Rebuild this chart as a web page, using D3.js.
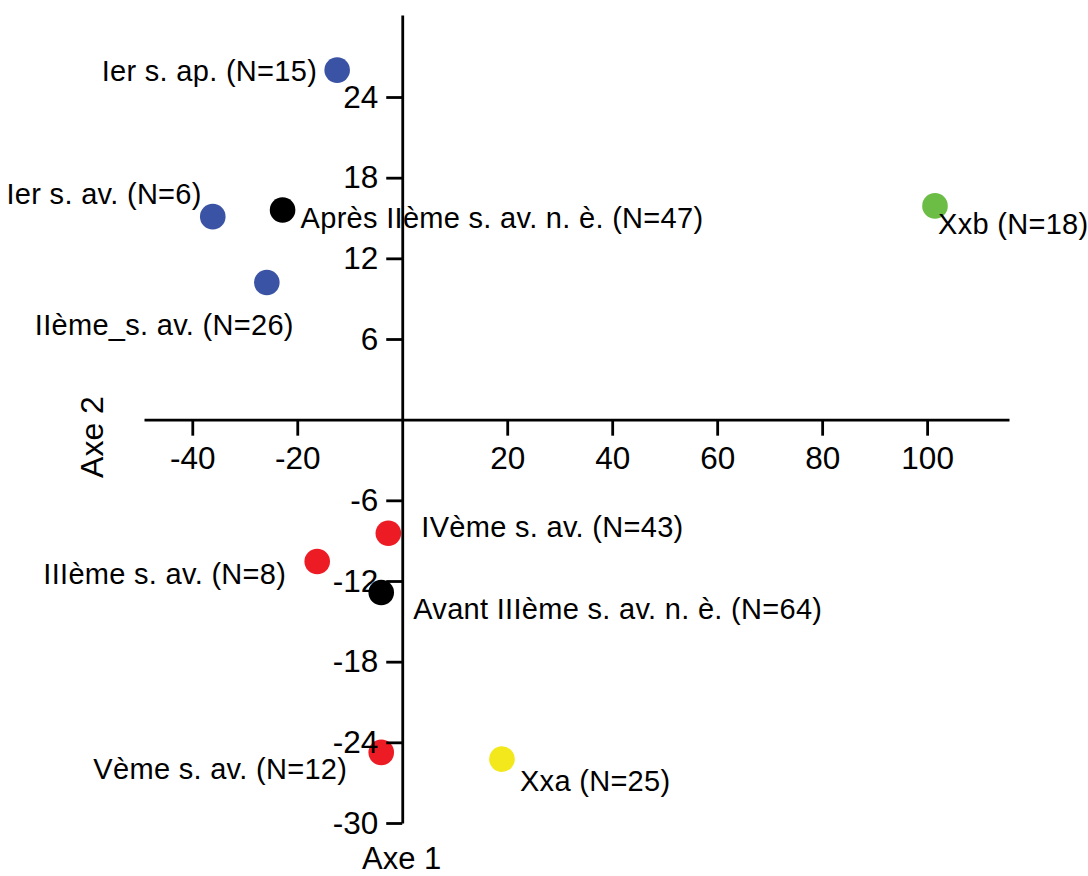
<!DOCTYPE html>
<html>
<head>
<meta charset="utf-8">
<script src="https://cdn.jsdelivr.net/npm/d3@7"></script>
<style>
  html, body { margin: 0; padding: 0; background: #fff; }
  svg { display: block; }
  text { font-family: "Liberation Sans", Arial, Helvetica, sans-serif; fill: #000; }
</style>
</head>
<body>
<svg id="chart" width="1088" height="876"></svg>
<script>
// ---- data ----
const categories = [
  "Ier s. ap. (N=15)",
  "Ier s. av. (N=6)",
  "Après IIème s. av. n. è. (N=47)",
  "IIème_s. av. (N=26)",
  "Xxb (N=18)",
  "IVème s. av. (N=43)",
  "IIIème s. av. (N=8)",
  "Avant IIIème s. av. n. è. (N=64)",
  "Vème s. av. (N=12)",
  "Xxa (N=25)"
];
const axe1Values = [-12.4, -36.1, -22.8, -25.8, 101.5, -2.65, -16.2, -4.0, -4.0, 19.0];
const axe2Values = [26.0, 15.1, 15.6, 10.2, 15.9, -8.45, -10.55, -12.85, -24.75, -25.25];
const groups = ["blue", "blue", "black", "blue", "green", "red", "red", "black", "red", "yellow"];
const xTickValues = [-40, -20, 20, 40, 60, 80, 100];
const yTickValues = [24, 18, 12, 6, -6, -12, -18, -24, -30];
const axisTitles = ["Axe 1", "Axe 2"];

// ---- styling / layout (not data) ----
const groupColors = { blue: "#3A53A4", black: "#000000", green: "#6BBD45", red: "#ED1C24", yellow: "#F2E81C" };
const labelLayout = [
  { anchor: "end",   dx: -20, dy: 11 },
  { anchor: "end",   dx: -11, dy: -13 },
  { anchor: "start", dx: 18,  dy: 18 },
  { anchor: "end",   dx: 27,  dy: 52 },
  { anchor: "start", dx: 3,   dy: 28 },
  { anchor: "start", dx: 33,  dy: 3.5 },
  { anchor: "end",   dx: -31, dy: 22 },
  { anchor: "start", dx: 32,  dy: 27 },
  { anchor: "end",   dx: -34, dy: 27 },
  { anchor: "start", dx: 18,  dy: 32 }
];

const points = categories.map((c, i) => ({
  name: c, x: axe1Values[i], y: axe2Values[i], group: groups[i], layout: labelLayout[i]
}));

const svg = d3.select("#chart");

const x = d3.scaleLinear().domain([-49.2, 115.6]).range([144, 1009]);
const y = d3.scaleLinear().domain([-30, 30.1]).range([823, 15]);

// points
svg.append("g").selectAll("circle")
  .data(points)
  .join("circle")
  .attr("cx", d => x(d.x))
  .attr("cy", d => y(d.y))
  .attr("r", 12.8)
  .attr("fill", d => groupColors[d.group]);

// labels
svg.append("g").selectAll("text")
  .data(points)
  .join("text")
  .attr("x", d => x(d.x) + d.layout.dx)
  .attr("y", d => y(d.y) + d.layout.dy)
  .attr("text-anchor", d => d.layout.anchor)
  .style("font-size", "29px")
  .style("letter-spacing", "0.3px")
  .text(d => d.name);

// axes
const xAxis = d3.axisBottom(x).tickValues(xTickValues).tickSize(16).tickSizeOuter(0).tickPadding(11)
  .tickFormat(d3.format("d"));
const yAxis = d3.axisLeft(y).tickValues(yTickValues).tickSize(16).tickSizeOuter(0).tickPadding(8)
  .tickFormat(d3.format("d"));

const gx = svg.append("g").attr("transform", `translate(0,${y(0)})`).call(xAxis);
const gy = svg.append("g").attr("transform", `translate(${x(0)},0)`).call(yAxis);

[gx, gy].forEach(g => {
  g.selectAll("path.domain").attr("stroke", "#000").attr("stroke-width", 2.8);
  g.selectAll(".tick line").attr("stroke", "#000").attr("stroke-width", 2.8);
  g.selectAll(".tick text")
    .style("font-family", '"Liberation Sans", Arial, Helvetica, sans-serif')
    .style("font-size", "31.5px")
    .attr("fill", "#000");
});
gx.selectAll(".tick text").text(d => d3.format("d")(d).replace("−", "-"));
gy.selectAll(".tick text").text(d => d3.format("d")(d).replace("−", "-"));

// axis titles
svg.append("text")
  .attr("x", 362)
  .attr("y", 869)
  .style("font-size", "31px")
  .text(axisTitles[0]);

svg.append("text")
  .attr("transform", "translate(103,437) rotate(-90)")
  .attr("text-anchor", "middle")
  .style("font-size", "32px")
  .text(axisTitles[1]);
</script>
</body>
</html>
